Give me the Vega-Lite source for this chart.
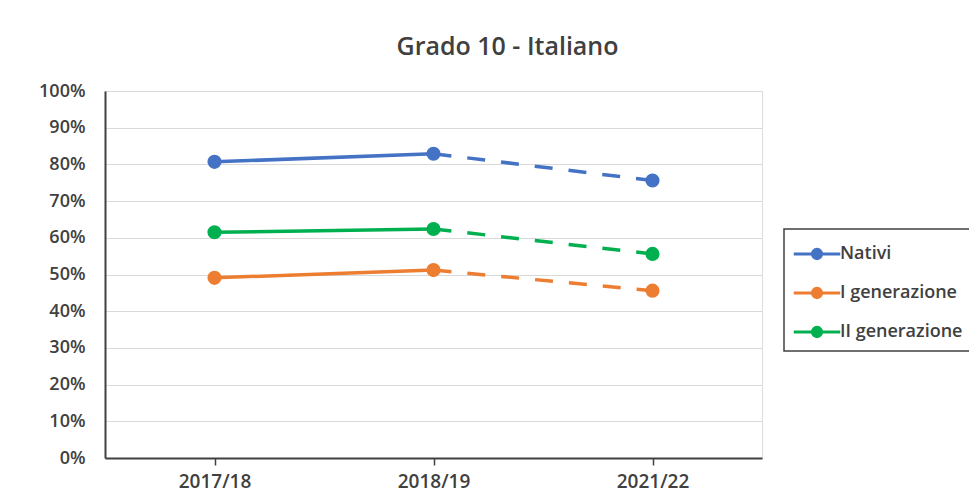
{
  "$schema": "https://vega.github.io/schema/vega-lite/v6.json",
  "width": 657,
  "height": 367,
  "autosize": {"type": "none"},
  "padding": {"left": 105, "top": 91, "right": 207, "bottom": 44},
  "background": "white",
  "title": {
    "text": "Grado 10 - Italiano",
    "fontSize": 25,
    "fontWeight": 600,
    "font": "Open Sans",
    "color": "#404040",
    "anchor": "middle",
    "dx": 74,
    "offset": 22
  },
  "data": {
    "values": [
      {"anno": "2017/18", "gruppo": "Nativi", "valore": 0.807},
      {"anno": "2018/19", "gruppo": "Nativi", "valore": 0.829},
      {"anno": "2021/22", "gruppo": "Nativi", "valore": 0.756},
      {"anno": "2017/18", "gruppo": "I generazione", "valore": 0.491},
      {"anno": "2018/19", "gruppo": "I generazione", "valore": 0.512},
      {"anno": "2021/22", "gruppo": "I generazione", "valore": 0.456},
      {"anno": "2017/18", "gruppo": "II generazione", "valore": 0.615},
      {"anno": "2018/19", "gruppo": "II generazione", "valore": 0.624},
      {"anno": "2021/22", "gruppo": "II generazione", "valore": 0.556}
    ]
  },
  "encoding": {
    "x": {
      "field": "anno",
      "type": "nominal",
      "sort": ["2017/18", "2018/19", "2021/22"],
      "scale": {"type": "point", "padding": 0.5},
      "axis": {
        "title": null,
        "labelAngle": 0,
        "labelFont": "Open Sans",
        "labelFontSize": 19,
        "labelFontWeight": 600,
        "labelColor": "#404040",
        "labelPadding": 7,
        "domainColor": "#404040",
        "domainWidth": 2,
        "tickColor": "#404040",
        "tickWidth": 1.5,
        "tickSize": 7,
        "grid": false
      }
    },
    "y": {
      "field": "valore",
      "type": "quantitative",
      "scale": {"domain": [0, 1], "nice": false},
      "axis": {
        "title": null,
        "values": [0, 0.1, 0.2, 0.3, 0.4, 0.5, 0.6, 0.7, 0.8, 0.9, 1],
        "format": ".0%",
        "labelFont": "Open Sans",
        "labelFontSize": 18,
        "labelFontWeight": 600,
        "labelColor": "#404040",
        "labelPadding": 20,
        "ticks": false,
        "domainColor": "#404040",
        "domainWidth": 2,
        "grid": true,
        "gridColor": "#d9d9d9",
        "gridWidth": 1
      }
    },
    "color": {
      "field": "gruppo",
      "type": "nominal",
      "scale": {
        "domain": ["Nativi", "I generazione", "II generazione"],
        "range": ["#4472C4", "#ED7D31", "#00B050"]
      },
      "legend": {
        "title": null,
        "orient": "none",
        "legendX": 679,
        "legendY": 138,
        "padding": 8,
        "strokeColor": "#404040",
        "fillColor": "white",
        "symbolType": "M-1.5,0H1.5M-0.3,0A0.3,0.3,0,1,1,0.3,0A0.3,0.3,0,1,1,-0.3,0Z",
        "symbolSize": 961,
        "symbolStrokeWidth": 3,
        "symbolOffset": 8,
        "labelOffset": 6,
        "rowPadding": 11,
        "labelFont": "Open Sans",
        "labelFontSize": 18,
        "labelFontWeight": 600,
        "labelColor": "#404040",
        "labelLimit": 300,
        "encode": {
          "legend": {
            "update": {
              "strokeWidth": {"value": 1.5}
            }
          },
          "symbols": {
            "update": {
              "fill": {"scale": "color", "field": "value"},
              "stroke": {"scale": "color", "field": "value"},
              "fillOpacity": {"value": 1},
              "strokeDash": {"value": []}
            }
          }
        }
      }
    }
  },
  "layer": [
    {
      "transform": [{"filter": "datum.anno != '2021/22'"}],
      "mark": {"type": "line", "strokeWidth": 3.5}
    },
    {
      "transform": [{"filter": "datum.anno != '2017/18'"}],
      "mark": {"type": "line", "strokeWidth": 3.5, "strokeDash": [18, 16]}
    },
    {
      "mark": {"type": "point", "filled": true, "size": 200, "opacity": 1}
    }
  ]
}
